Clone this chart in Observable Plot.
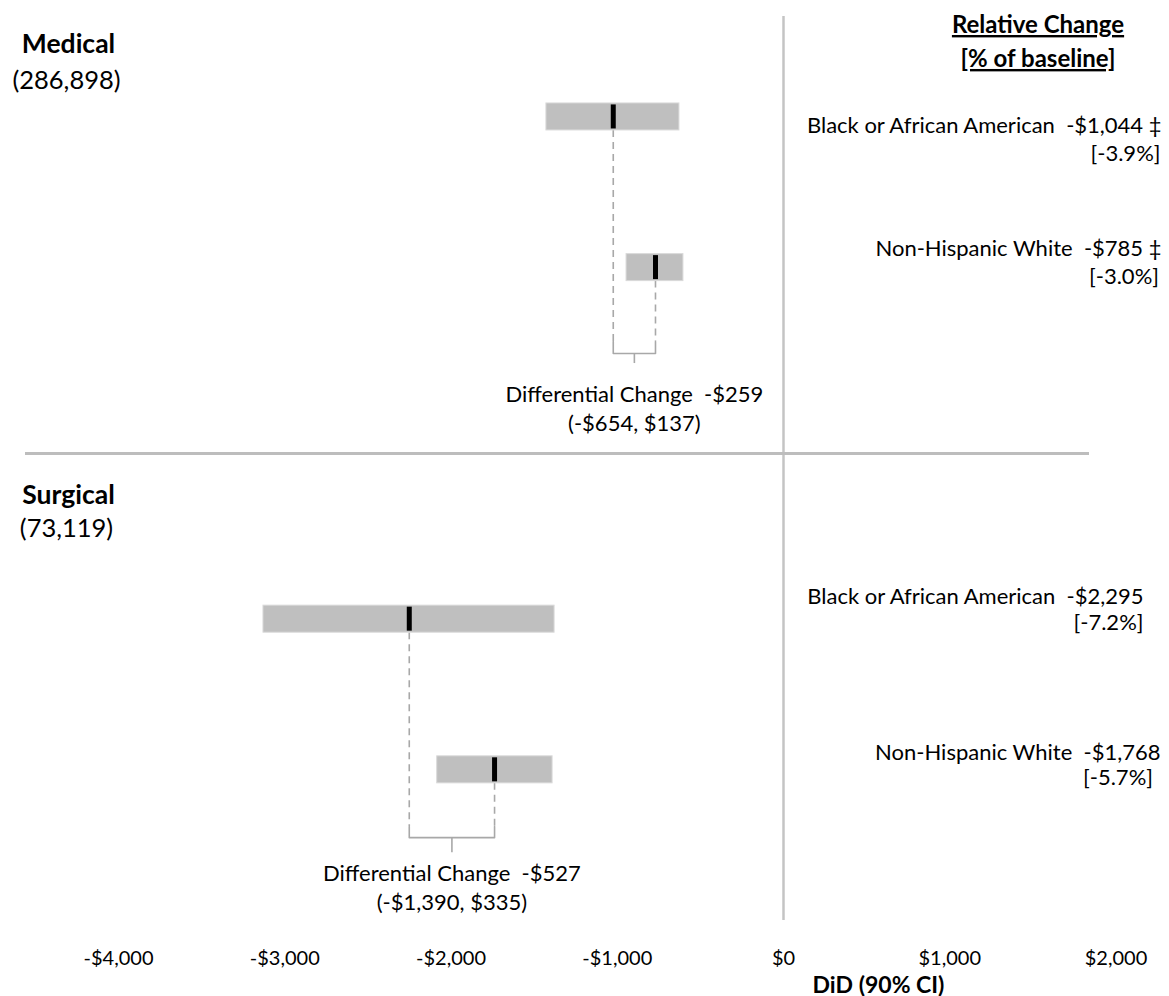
<!DOCTYPE html>
<html>
<head>
<meta charset="utf-8">
<script src="https://cdn.jsdelivr.net/npm/d3@7"></script>
<script src="https://cdn.jsdelivr.net/npm/@observablehq/plot@0.6"></script>
<style>
  body { margin: 0; background: #fff; }
  #chart svg { display: block; }
</style>
</head>
<body>
<div id="chart"></div>
<script>
// ---------------- DATA ----------------
const groups = ["Medical", "Medical", "Surgical", "Surgical"];
const races = ["Black or African American", "Non-Hispanic White", "Black or African American", "Non-Hispanic White"];
const ciLow = [-1426, -944, -3128, -2083];
const ciHigh = [-626, -602, -1377, -1389];
const estimates = [-1024, -770, -2251, -1738];
const estimateLabels = ["-$1,044", "-$785", "-$2,295", "-$1,768"];
const significance = ["‡", "‡", "", ""];
const relativeChange = ["-3.9%", "-3.0%", "-7.2%", "-5.7%"];

const panelNames = ["Medical", "Surgical"];
const panelCounts = ["286,898", "73,119"];
const diffValues = ["-$259", "-$527"];
const diffLow = ["-$654", "-$1,390"];
const diffHigh = ["$137", "$335"];

const xTicks = [-4000, -3000, -2000, -1000, 0, 1000, 2000];
const xTitle = "DiD (90% CI)";
const headerLines = ["Relative Change", "[% of baseline]"];

// ---------------- LAYOUT (row units of the y scale, px shifts) ----------------
const panelBase = {Medical: 0, Surgical: 10};
const raceRow = {"Black or African American": 0, "Non-Hispanic White": 3};
const annot = {
  Medical: {title: -1.44, count: -0.71,
    bracketTop: 4.47, bracketBottom: 4.71, braceTip: 4.91, diff: 5.78},
  Surgical: {title: -2.46, count: -1.80,
    bracketTop: 4.13, bracketBottom: 4.35, braceTip: 4.65, diff: 5.32}
};
// right-hand label lines: [row of line 1, row of line 2, shift of line 1, shift of line 2]
const labelLayout = [
  [0.17, 0.73, 45.5, 44.5],
  [2.625, 3.19, 45.5, 43],
  [9.565, 10.085, 27.5, 27.5],
  [12.655, 13.17, 44.5, 37]
];
const headerRow = -1.55;
const separatorRow = 6.70;

// ---------------- TABLES ----------------
const rows = groups.map((g, i) => ({
  group: g, race: races[i], lo: ciLow[i], hi: ciHigh[i], est: estimates[i],
  row: panelBase[g] + raceRow[races[i]],
  bracketTop: panelBase[g] + annot[g].bracketTop,
  line1: `${races[i]}\u00a0 ${estimateLabels[i]}${significance[i] ? " " + significance[i] : ""}`,
  line2: `[${relativeChange[i]}]`,
  layout: labelLayout[i]
}));

const panels = panelNames.map((g, i) => {
  const b = rows.find(r => r.group === g && r.race === races[0]);
  const w = rows.find(r => r.group === g && r.race === races[1]);
  const base = panelBase[g], a = annot[g];
  return {
    group: g, count: panelCounts[i], b: b.est, w: w.est, mid: (b.est + w.est) / 2,
    titleRow: base + a.title, countRow: base + a.count,
    top: base + a.bracketTop, bottom: base + a.bracketBottom, tip: base + a.braceTip,
    diffRow: base + a.diff,
    text: `Differential Change\u00a0 ${diffValues[i]}\n(${diffLow[i]}, ${diffHigh[i]})`
  };
});

const bracketPts = panels.flatMap(p => [
  {group: p.group, x: p.b, y: p.top},
  {group: p.group, x: p.b, y: p.bottom},
  {group: p.group, x: p.w, y: p.bottom},
  {group: p.group, x: p.w, y: p.top}
]);

const fmtDollar = d => (d < 0 ? "-" : "") + "$" + d3.format(",")(Math.abs(d));

const FONT = "Lato, 'Open Sans', sans-serif";
const grayLine = "#a8a8a8";

const labelMarks = rows.flatMap(r => [
  Plot.text([r], {y: () => r.layout[0], text: "line1", frameAnchor: "right", dx: r.layout[2],
    textAnchor: "end", fontSize: 22, fill: "#000"}),
  Plot.text([r], {y: () => r.layout[1], text: "line2", frameAnchor: "right", dx: r.layout[3],
    textAnchor: "end", fontSize: 22, fill: "#000"})
]);

const chart = Plot.plot({
  width: 1169,
  height: 996,
  marginLeft: 118,
  marginRight: 53.5,
  marginTop: 16,
  marginBottom: 76,
  style: {fontFamily: FONT, fontSize: "20px", color: "#000", background: "#fff", overflow: "visible"},
  x: {domain: [-4000, 2000], ticks: xTicks, tickFormat: fmtDollar, tickSize: 0, tickPadding: 30, label: null},
  y: {domain: [-2, 16], reverse: true, axis: null},
  marks: [
    // zero line
    Plot.ruleX([0], {stroke: "#c4c4c4", strokeWidth: 2.5}),
    // panel separator
    Plot.ruleY([separatorRow], {stroke: "#bdbdbd", strokeWidth: 3, insetLeft: -93, insetRight: 26.5}),
    // dashed connectors
    Plot.ruleX(rows, {x: "est", y1: "row", y2: "bracketTop", insetTop: 13.5,
      stroke: grayLine, strokeWidth: 1.6, strokeDasharray: "7,5"}),
    // brackets
    Plot.line(bracketPts, {x: "x", y: "y", z: "group", stroke: grayLine, strokeWidth: 1.6, strokeLinejoin: "round"}),
    Plot.ruleX(panels, {x: "mid", y1: "bottom", y2: "tip", stroke: grayLine, strokeWidth: 1.6}),
    // CI bars
    Plot.rect(rows, {x1: "lo", x2: "hi", y1: "row", y2: "row", insetTop: -13.5, insetBottom: -13.5,
      fill: "#bfbfbf", stroke: "#d9d9d9", strokeWidth: 1}),
    // point estimates
    Plot.ruleX(rows, {x: "est", y1: "row", y2: "row", insetTop: -12, insetBottom: -12,
      stroke: "#000", strokeWidth: 5}),
    // right labels
    ...labelMarks,
    // differential change labels
    Plot.text(panels, {x: "mid", y: "diffRow", text: "text", fontSize: 22, lineHeight: 29 / 22, fill: "#000"}),
    // panel titles
    Plot.text(panels, {y: "titleRow", text: "group", frameAnchor: "left", dx: -50, textAnchor: "middle",
      fontWeight: "bold", fontSize: 26.5, fill: "#000"}),
    Plot.text(panels, {y: "countRow", text: d => `(${d.count})`, frameAnchor: "left", dx: -52, textAnchor: "middle",
      fontSize: 25.5, fill: "#000"}),
    // header
    Plot.text([headerLines.join("\n")], {y: () => headerRow, frameAnchor: "right", dx: -78, textAnchor: "middle",
      fontWeight: "bold", fontSize: 24, lineHeight: 34 / 24, fill: "#000"}),
    // x title
    Plot.text([xTitle], {frameAnchor: "bottom-right", dx: -237.5, dy: 72, textAnchor: "middle",
      fontWeight: "bold", fontSize: 23, fill: "#000"})
  ]
});

document.getElementById("chart").appendChild(chart);

// underline the header
chart.querySelectorAll("text").forEach(t => {
  if (t.textContent.includes("Relative Change")) t.setAttribute("text-decoration", "underline");
});
</script>
</body>
</html>
